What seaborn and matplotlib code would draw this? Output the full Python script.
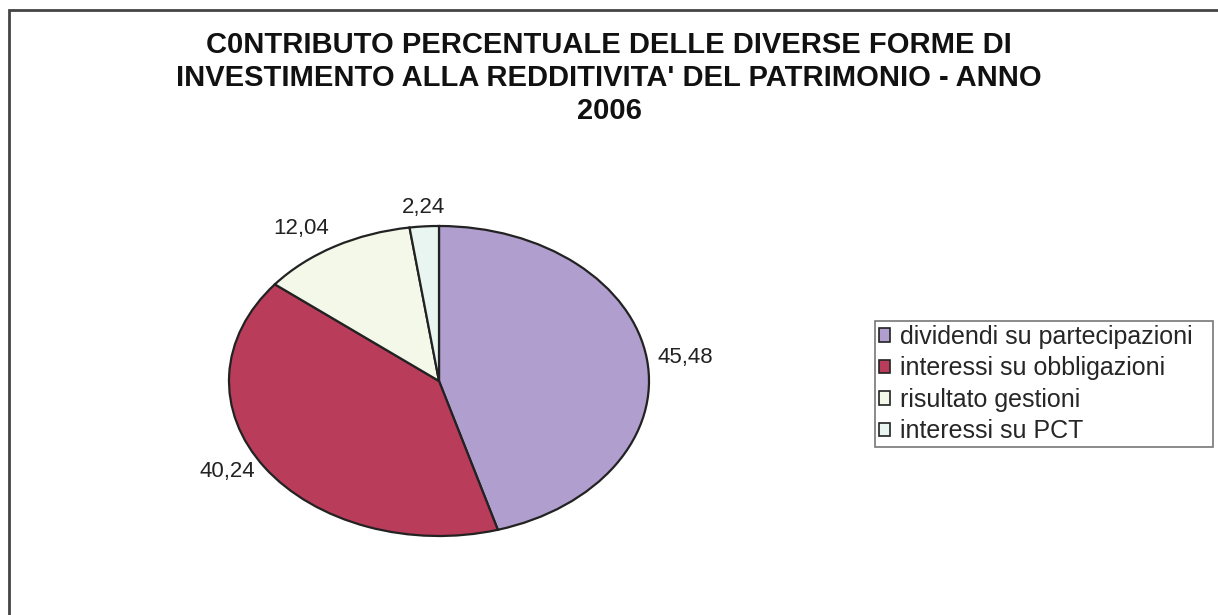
import matplotlib
matplotlib.use('Agg')
import matplotlib.pyplot as plt
import seaborn as sns
import numpy as np
from matplotlib.patches import Rectangle

sns.set_theme(style='white')
plt.rcParams['font.family'] = ['Liberation Sans', 'DejaVu Sans']

# Data
categories = ['dividendi su partecipazioni', 'interessi su obbligazioni',
              'risultato gestioni', 'interessi su PCT']
values = [45.48, 40.24, 12.04, 2.24]
value_labels = ['45,48', '40,24', '12,04', '2,24']
colors = ['#B09ECE', '#B93C5A', '#F3F8E9', '#E9F5F1']

W, H = 1218, 615
fig = plt.figure(figsize=(W / 100, H / 100), dpi=100)

# outer chart frame (Excel style), only top/left visible
fig.patches.append(Rectangle((9 / W, -0.05), 1.1, 1 - 10 / H + 0.05,
                             transform=fig.transFigure, fill=False,
                             edgecolor='#444444', linewidth=2, clip_on=False))

# title
fig.text(0.5, 1 - 78 / H,
         "C0NTRIBUTO PERCENTUALE DELLE DIVERSE FORME DI\n"
         "INVESTIMENTO ALLA REDDITIVITA' DEL PATRIMONIO - ANNO\n2006",
         ha='center', va='center', fontsize=21, fontweight='bold',
         linespacing=1.22, color='#111111')

# elliptical pie: axes with non-equal aspect
cx, cy, rx, ry = 439, 381, 210, 155
ax = fig.add_axes([(cx - rx) / W, 1 - (cy + ry) / H, 2 * rx / W, 2 * ry / H])
wedges, _ = ax.pie(values, colors=colors, startangle=90, counterclock=False,
                   wedgeprops=dict(edgecolor='#222222', linewidth=1.6))
ax.set_aspect('auto')
ax.set_xlim(-1, 1)
ax.set_ylim(-1, 1)
ax.axis('off')

# Excel-like data labels just outside the rim
for w, lab in zip(wedges, value_labels):
    ang = np.deg2rad((w.theta1 + w.theta2) / 2)
    c, s = np.cos(ang), np.sin(ang)
    ha = 'left' if c > 0.1 else ('right' if c < -0.1 else 'center')
    va = 'bottom' if s > 0.7 else ('top' if s < -0.7 else 'center')
    ax.annotate(lab, xy=(c, s), xytext=(8 * c, 6 * s), textcoords='offset points',
                ha=ha, va=va, fontsize=16, color='#222222', annotation_clip=False)

leg = fig.legend(wedges, categories, loc='upper left', mode='expand',
                 bbox_to_anchor=(875 / W, 1 - 445 / H, (1213 - 875) / W, (445 - 321) / H),
                 frameon=True, fontsize=18, handlelength=0.45, handleheight=0.45,
                 handletextpad=0.4, labelspacing=0.3, borderpad=0.15,
                 borderaxespad=0, fancybox=False)
leg.get_frame().set_edgecolor('#555555')
leg.get_frame().set_linewidth(1.2)
for h in leg.legend_handles:
    h.set_edgecolor('#222222')
    h.set_linewidth(1.2)

fig.savefig('out.png', dpi=100)
